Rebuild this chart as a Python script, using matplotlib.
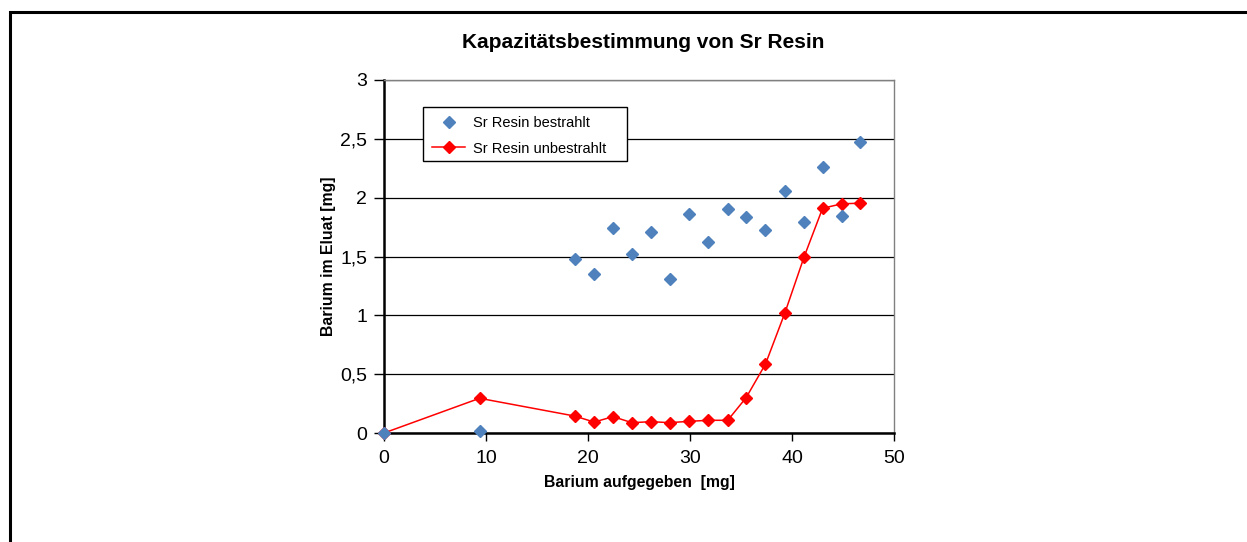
import numpy as np
import matplotlib
matplotlib.use("Agg")
import matplotlib.pyplot as plt
from matplotlib.patches import Rectangle
from matplotlib.ticker import FuncFormatter

# Barium aufgegeben [mg]
x_bestrahlt = [0, 9.37, 18.7, 20.6, 22.45, 24.3, 26.2, 28.0, 29.9, 31.8, 33.7,
               35.5, 37.4, 39.3, 41.2, 43.0, 44.9, 46.7]
y_bestrahlt = [0, 0.014, 1.48, 1.35, 1.74, 1.52, 1.71, 1.305, 1.86, 1.625, 1.90,
               1.835, 1.725, 2.06, 1.79, 2.26, 1.845, 2.47]

x_unbestrahlt = [0, 9.37, 18.7, 20.6, 22.45, 24.3, 26.2, 28.0, 29.9, 31.8, 33.7,
                 35.5, 37.4, 39.3, 41.2, 43.0, 44.9, 46.7]
y_unbestrahlt = [0, 0.295, 0.144, 0.093, 0.139, 0.088, 0.096, 0.088, 0.099, 0.108,
                 0.108, 0.30, 0.586, 1.02, 1.50, 1.91, 1.948, 1.953]

plt.rcParams['font.family'] = ['Liberation Sans', 'DejaVu Sans']

W, H = 1247, 542
fig = plt.figure(figsize=(W / 100, H / 100), dpi=100)

# outer chart frame (cut at right and bottom)
fig.patches.append(Rectangle((10 / W, -0.1), 1.2, 1 - 12 / H + 0.1,
                             transform=fig.transFigure, fill=False,
                             edgecolor='black', linewidth=2.2))

ax = fig.add_axes([384 / W, 1 - 433 / H, 510 / W, 353 / H])

ax.plot(x_unbestrahlt, y_unbestrahlt, color='#FF0000', lw=1.1, marker='D',
        markersize=6, markeredgecolor='#FF0000', markerfacecolor='#FF0000',
        label='Sr Resin unbestrahlt', zorder=3, clip_on=False)
ax.plot(x_bestrahlt, y_bestrahlt, linestyle='none', marker='D', markersize=6.5,
        color='#4F81BD', label='Sr Resin bestrahlt', zorder=4, clip_on=False)

ax.set_xlim(0, 50)
ax.set_ylim(0, 3)
ax.set_xticks(np.arange(0, 51, 10))
ax.set_yticks(np.arange(0, 3.01, 0.5))
ax.yaxis.set_major_formatter(FuncFormatter(
    lambda v, p: ('%g' % v).replace('.', ',')))
ax.tick_params(axis='both', labelsize=14, direction='out', width=1,
               colors='black')
ax.tick_params(axis='y', length=7, pad=5)
ax.tick_params(axis='x', length=6, pad=6)

ax.grid(axis='y', color='black', lw=0.9)
ax.set_axisbelow(True)
for s in ['left', 'bottom']:
    ax.spines[s].set_linewidth(1.8)
    ax.spines[s].set_color('black')
for s in ['top', 'right']:
    ax.spines[s].set_linewidth(1)
    ax.spines[s].set_color('#808080')

ax.set_xlabel('Barium aufgegeben  [mg]', fontsize=11.4, fontweight='bold',
              labelpad=6)
ax.set_ylabel('Barium im Eluat [mg]', fontsize=11.4, fontweight='bold',
              labelpad=3)

handles, labels = ax.get_legend_handles_labels()
leg = ax.legend(handles[::-1], labels[::-1], loc='upper left',
                bbox_to_anchor=(0.0765, 0.923), fontsize=10.5, frameon=False,
                borderaxespad=0, handlelength=2.3, borderpad=0.6,
                labelspacing=0.8, handletextpad=0.5)
# legend frame as in the original (wider than the text)
ax.add_patch(Rectangle(((423 - 384) / 510, (433 - 161) / 353),
                       204 / 510, 54 / 353, transform=ax.transAxes,
                       facecolor='white', edgecolor='black', lw=1, zorder=4.5))
leg.set_zorder(5)

fig.text(643 / W, 1 - 42 / H, 'Kapazitätsbestimmung von Sr Resin',
         ha='center', va='center', fontsize=15, fontweight='bold')

fig.savefig('out.png', dpi=100)
